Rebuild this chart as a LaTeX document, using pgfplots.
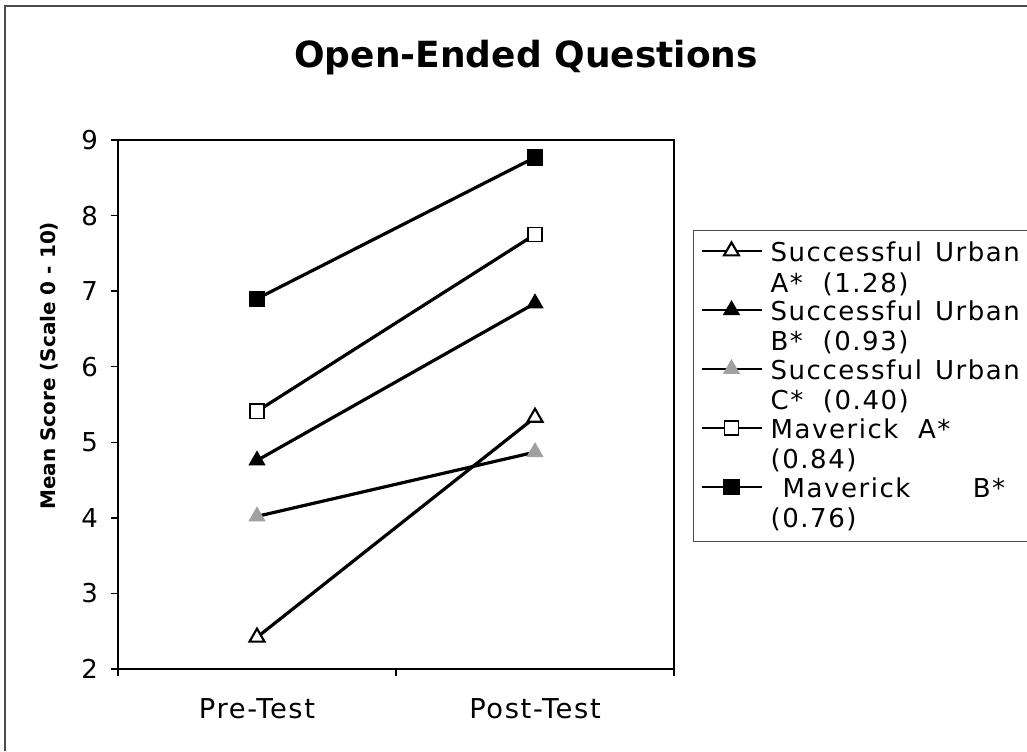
\documentclass[border=0pt]{standalone}
\usepackage{fontspec}
\setmainfont{DejaVu Sans}
\newfontfamily\spacedfont[LetterSpace=6]{DejaVu Sans}
\usepackage{pgfplots}
\pgfplotsset{compat=1.18}
\definecolor{sugray}{RGB}{160,160,160}
\newcommand\lentry[2]{\parbox[b]{192pt}{\raggedright #1\\#2}}

\begin{document}
\begin{tikzpicture}
\useasboundingbox (0,0) rectangle (770.25pt,-563.25pt);
\draw[black!70, line width=1.4pt] (4pt,-563.25pt) -- (4pt,-4.5pt) -- (770.25pt,-4.5pt);
\begin{axis}[
  at={(88.5pt,-501.75pt)}, anchor=south west,
  width=417pt, height=396.75pt, scale only axis,
  xmin=0.5, xmax=2.5, ymin=2, ymax=9,
  xtick={1,2}, xticklabels={Pre-Test,Post-Test},
  minor xtick={0.5,1.5,2.5},
  ytick={2,3,4,5,6,7,8,9},
  tick pos=left, tick align=outside,
  major tick length=5.5pt, minor tick length=5.5pt,
  major x tick style={draw=none},
  minor x tick style={black, line width=1pt},
  ytick style={black, line width=1pt},
  axis line style={black, line width=2.2pt},
  /pgf/number format/assume math mode=true,
  yticklabel style={font=\fontsize{19.5}{23}\selectfont, text=black, xshift=-6pt},
  xticklabel style={font=\spacedfont\fontsize{20.5}{24}\selectfont, text=black, yshift=-13pt},
  title={\bfseries Open-Ended Questions},
  title style={at={(axis description cs:0.734,1.122)}, anchor=base, font=\fontsize{27}{32}\selectfont},
  ylabel={\bfseries Mean Score (Scale 0 - 10)},
  every axis y label/.style={at={(axis description cs:-0.123,0.573)}, rotate=90, anchor=center, font=\fontsize{15}{18}\selectfont},
  clip=false,
  legend cell align=left,
  legend style={at={(axis description cs:1.034,0.8299)}, anchor=north west,
    draw=black!70, line width=0.8pt, fill=white,
    font=\spacedfont\fontsize{19.5}{22.7}\selectfont,
    inner xsep=5.25pt, inner ysep=6pt, row sep=0pt, column sep=6pt,
    nodes={inner ysep=2.6pt, inner xsep=0pt}},
  legend image code/.code={\draw[mark repeat=2,mark phase=2,#1,line width=1.6pt] plot coordinates {(0pt,12.7pt)(22.5pt,12.7pt)(45pt,12.7pt)};},
]
\addplot[black, line width=2.4pt, mark=triangle*, mark options={fill=white, draw=black, line width=1.6pt, mark size=6.5pt, solid}] coordinates {(1,2.42) (2,5.33)};
\addlegendentry{\lentry{\makebox[187pt][s]{Successful Urban}}{A*\ \ (1.28)}}
\addplot[black, line width=2.4pt, mark=triangle*, mark options={fill=black, draw=black, line width=1pt, mark size=6.5pt, solid}] coordinates {(1,4.76) (2,6.84)};
\addlegendentry{\lentry{\makebox[187pt][s]{Successful Urban}}{B*\ \ (0.93)}}
\addplot[black, line width=2.4pt, mark=triangle*, mark options={fill=sugray, draw=sugray, line width=1pt, mark size=6.5pt, solid}] coordinates {(1,4.02) (2,4.87)};
\addlegendentry{\lentry{\makebox[187pt][s]{Successful Urban}}{C*\ \ (0.40)}}
\addplot[black, line width=2.4pt, mark=square*, mark options={fill=white, draw=black, line width=1.3pt, mark size=5.3pt, solid}] coordinates {(1,5.41) (2,7.75)};
\addlegendentry{\lentry{Maverick\ \ A*}{(0.84)}}
\addplot[black, line width=2.4pt, mark=square*, mark options={fill=black, draw=black, line width=0.5pt, mark size=5.8pt, solid}] coordinates {(1,6.90) (2,8.77)};
\addlegendentry{\lentry{\hspace*{9pt}\makebox[167pt][s]{Maverick B*}}{(0.76)}}
\end{axis}
\end{tikzpicture}
\end{document}
